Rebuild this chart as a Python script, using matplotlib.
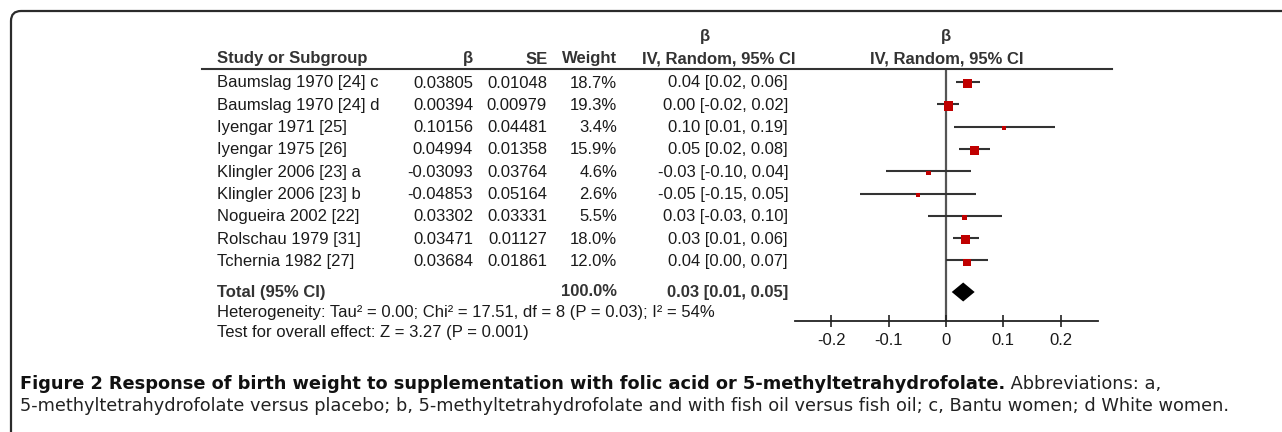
import numpy as np
import matplotlib
matplotlib.use("Agg")
import matplotlib.pyplot as plt
from matplotlib.lines import Line2D
from matplotlib.path import Path
from matplotlib.patches import PathPatch

# ---------------- data ----------------
studies = ["Baumslag 1970 [24] c", "Baumslag 1970 [24] d", "Iyengar 1971 [25]",
           "Iyengar 1975 [26]", "Klingler 2006 [23] a", "Klingler 2006 [23] b",
           "Nogueira 2002 [22]", "Rolschau 1979 [31]", "Tchernia 1982 [27]"]
beta = [0.03805, 0.00394, 0.10156, 0.04994, -0.03093, -0.04853, 0.03302, 0.03471, 0.03684]
se = [0.01048, 0.00979, 0.04481, 0.01358, 0.03764, 0.05164, 0.03331, 0.01127, 0.01861]
weight = [18.7, 19.3, 3.4, 15.9, 4.6, 2.6, 5.5, 18.0, 12.0]
ci_text = ["0.04 [0.02, 0.06]", "0.00 [-0.02, 0.02]", "0.10 [0.01, 0.19]",
           "0.05 [0.02, 0.08]", "-0.03 [-0.10, 0.04]", "-0.05 [-0.15, 0.05]",
           "0.03 [-0.03, 0.10]", "0.03 [0.01, 0.06]", "0.04 [0.00, 0.07]"]
total_est, total_lo, total_hi = 0.03, 0.01, 0.05
total_weight = "100.0%"
total_text = "0.03 [0.01, 0.05]"
heterogeneity = "Heterogeneity: Tau\u00b2 = 0.00; Chi\u00b2 = 17.51, df = 8 (P = 0.03); I\u00b2 = 54%"
overall = "Test for overall effect: Z = 3.27 (P = 0.001)"
xticks = [-0.2, -0.1, 0, 0.1, 0.2]
xticklabels = ["-0.2", "-0.1", "0", "0.1", "0.2"]
caption_bold = "Figure 2 Response of birth weight to supplementation with folic acid or 5-methyltetrahydrofolate."
caption_rest1 = " Abbreviations: a,"
caption_line2 = ("5-methyltetrahydrofolate versus placebo; b, 5-methyltetrahydrofolate and with fish oil "
                 "versus fish oil; c, Bantu women; d White women.")

# ---------------- layout (pixels) ----------------
W, H = 1282, 432
fig = plt.figure(figsize=(W / 100, H / 100), dpi=100)
fig.patch.set_facecolor("white")

def fx(x):
    return x / W

def fy(y):
    return 1 - y / H

TXT = "#1a1a1a"
FONT = "Liberation Sans"
FS = 12.0
row0, dy = 82.0, 22.3
header_line_y = 69.0
axis_y = 321.0
total_y = 292.0
zero_px = 946.0
unit_px = 573.0
ax_left, ax_right = 795.0, 1098.0

def row_px(i):
    return row0 + dy * i

# frame with rounded top-left corner
r = 10
x0, y0 = 11, 11
verts = [(fx(x0), fy(H + 2)), (fx(x0), fy(y0 + r)),
         (fx(x0), fy(y0)), (fx(x0 + r), fy(y0)),
         (fx(W + 2), fy(y0))]
codes = [Path.MOVETO, Path.LINETO, Path.CURVE3, Path.CURVE3, Path.LINETO]
fig.patches.append(PathPatch(Path(verts, codes), transform=fig.transFigure,
                             fill=False, edgecolor="#2b2b2b", lw=1.6))

# header
hdr = dict(fontfamily=FONT, fontsize=FS, fontweight="bold", color="#333333", va="center")
fig.text(fx(217), fy(59), "Study or Subgroup", ha="left", **hdr)
fig.text(fx(473), fy(59), "\u03b2", ha="right", **hdr)
fig.text(fx(548), fy(59), "SE", ha="right", **hdr)
fig.text(fx(617), fy(59), "Weight", ha="right", **hdr)
fig.text(fx(705), fy(37), "\u03b2", ha="center", **hdr)
fig.text(fx(795), fy(59), "IV, Random, 95% CI", ha="right", **hdr)
fig.text(fx(946), fy(37), "\u03b2", ha="center", **hdr)
fig.text(fx(947), fy(59), "IV, Random, 95% CI", ha="center", **hdr)
fig.add_artist(Line2D([fx(202), fx(1112)], [fy(header_line_y), fy(header_line_y)],
                      transform=fig.transFigure, color="#333333", lw=1.5))

# table rows
body = dict(fontfamily=FONT, fontsize=FS, color=TXT, va="center")
for i, name in enumerate(studies):
    y = fy(row_px(i) + 1)
    fig.text(fx(217), y, name, ha="left", **body)
    fig.text(fx(473), y, f"{beta[i]:.5f}", ha="right", **body)
    fig.text(fx(547), y, f"{se[i]:.5f}", ha="right", **body)
    fig.text(fx(617), y, f"{weight[i]:.1f}%", ha="right", **body)
    fig.text(fx(788), y, ci_text[i], ha="right", **body)

bold = dict(body, fontweight="bold", color="#333333")
fig.text(fx(217), fy(total_y), "Total (95% CI)", ha="left", **bold)
fig.text(fx(617), fy(total_y), total_weight, ha="right", **bold)
fig.text(fx(788), fy(total_y), total_text, ha="right", **bold)
fig.text(fx(217), fy(312), heterogeneity, ha="left", **body)
fig.text(fx(217), fy(333), overall, ha="left", **body)

# forest axes
ax = fig.add_axes([fx(ax_left), fy(axis_y), (ax_right - ax_left) / W, (axis_y - header_line_y) / H])
ax.set_xlim((ax_left - zero_px) / unit_px, (ax_right - zero_px) / unit_px)
ax.set_ylim((axis_y - row0) / dy, (header_line_y - row0) / dy)
ax.patch.set_alpha(0)
for s in ["top", "left", "right"]:
    ax.spines[s].set_visible(False)
ax.spines["bottom"].set_color("#222222")
ax.spines["bottom"].set_linewidth(1.3)
ax.set_yticks([])
ax.set_xticks(xticks)
ax.set_xticklabels(xticklabels, fontfamily=FONT, fontsize=FS, color=TXT)
ax.tick_params(axis="x", direction="inout", length=9, width=1.2, color="#222222", pad=4)

ax.axvline(0, color="#555555", lw=1.6, zorder=1)
b = np.array(beta)
s_ = np.array(se)
lo = b - 1.96 * s_
hi = b + 1.96 * s_
ys = np.arange(len(studies))
ax.hlines(ys, lo, hi, color="#333333", lw=1.5, zorder=2)
side = np.maximum(3.8, 2.1 * np.sqrt(np.array(weight))) * 0.72
ax.scatter(b, ys + 0.08, marker="s", s=side ** 2, color="#c00000", linewidths=0, zorder=3)

ty = (total_y - row0) / dy
half_h = 9.5 / dy
ax.fill([total_lo, total_est, total_hi, total_est], [ty, ty - half_h, ty, ty + half_h],
        color="black", lw=0, zorder=3)

# caption (font size fitted to the reference line widths)
fig.canvas.draw()
renderer = fig.canvas.get_renderer()
cap_font = "DejaVu Sans"
cap_x = 20

def fitted(text, y, target_width, **kw):
    t = fig.text(fx(cap_x), fy(y), text, ha="left", va="center", fontfamily=cap_font,
                 fontsize=10, **kw)
    w = t.get_window_extent(renderer).width
    t.set_fontsize(10 * target_width / w)
    return t

t1 = fitted(caption_bold, 384, 1003 - cap_x, fontweight="bold", color="#111111")
t2 = fitted(caption_line2, 406, 1228 - cap_x, color="#222222")
bb = t1.get_window_extent(renderer)
fig.text(bb.x1 / W, fy(384), caption_rest1, ha="left", va="center", fontfamily=cap_font,
         fontsize=t2.get_fontsize(), color="#222222")

fig.savefig("out.png", dpi=100, facecolor="white")
